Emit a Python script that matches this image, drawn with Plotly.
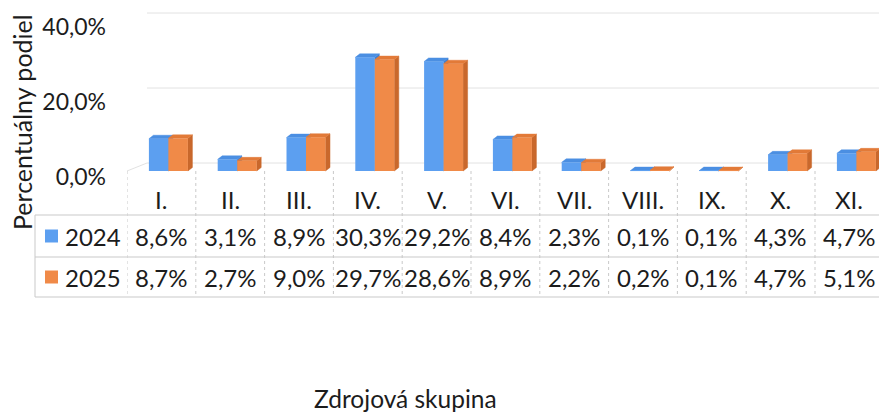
import plotly.graph_objects as go

# ---------------- data ----------------
categories = ["I.", "II.", "III.", "IV.", "V.", "VI.", "VII.", "VIII.", "IX.", "X.", "XI."]
series_names = ["2024", "2025"]
values_2024 = [8.6, 3.1, 8.9, 30.3, 29.2, 8.4, 2.3, 0.1, 0.1, 4.3, 4.7]
values_2025 = [8.7, 2.7, 9.0, 29.7, 28.6, 8.9, 2.2, 0.2, 0.1, 4.7, 5.1]
y_tick_values = [0, 20, 40]
y_tick_labels = ["0,0%", "20,0%", "40,0%"]
y_title = "Percentuálny podiel"
x_title = "Zdrojová skupina"

# ---------------- styling / geometry ----------------
W, H = 879, 412
L = 127            # left edge of plot (px)
COL = 68.8         # px per category
PXV = 3.75         # px per percent
Y0 = 171           # px of front zero
FONT = "Lato"
TXT = "#1c1c1c"
GRID = "#e2e2e2"
TLINE = "#c9c9c9"
front_cols = ["#5c9ff0", "#f08a48"]
top_cols = ["#4b8fe2", "#e27a38"]
side_cols = ["#3f7fcf", "#c9682c"]

xmax = (W - L) / COL
yrng = [(Y0 - H) / PXV, Y0 / PXV]


def px_x(p):
    return (p - L) / (W - L)


def px_y(p):
    return 1 - p / H


def fmt(v):
    return f"{v:.1f}".replace(".", ",") + "%"


bar_w = 19.5 / COL
offsets = [-2.75 / COL, 16.75 / COL]
ddx = 4.5 / COL
ddy = 3.5 / PXV

fig = go.Figure()
series = [values_2024, values_2025]
for s, vals in enumerate(series):
    xs_top, ys_top, xs_side, ys_side = [], [], [], []
    for i, v in enumerate(vals):
        xc = i + 0.5 + offsets[s]
        x0, x1 = xc - bar_w / 2, xc + bar_w / 2
        xs_top += [x0, x1, x1 + ddx, x0 + ddx, x0, None]
        ys_top += [v, v, v + ddy, v + ddy, v, None]
        xs_side += [x1, x1 + ddx, x1 + ddx, x1, x1, None]
        ys_side += [0, ddy, v + ddy, v, 0, None]
    fig.add_trace(go.Scatter(x=xs_side, y=ys_side, mode="lines", fill="toself",
                             fillcolor=side_cols[s], line=dict(width=0.5, color=side_cols[s]),
                             hoverinfo="skip", showlegend=False, zorder=2 * s))
    fig.add_trace(go.Scatter(x=xs_top, y=ys_top, mode="lines", fill="toself",
                             fillcolor=top_cols[s], line=dict(width=0.5, color=top_cols[s]),
                             hoverinfo="skip", showlegend=False, zorder=2 * s))
    fig.add_trace(go.Bar(x=[i + 0.5 + offsets[s] for i in range(len(vals))], y=vals,
                         width=bar_w, name=series_names[s],
                         marker=dict(color=front_cols[s], line=dict(width=0)),
                         showlegend=False, zorder=2 * s + 1))

shapes = []
# back wall gridlines and floor
back_dx = 20 / COL
back_dy = 8 / PXV
for t in y_tick_values:
    shapes.append(dict(type="line", xref="x", yref="y", x0=back_dx, x1=xmax,
                       y0=t + back_dy, y1=t + back_dy, line=dict(color=GRID, width=1), layer="below"))
shapes.append(dict(type="line", xref="x", yref="y", x0=0, x1=back_dx, y0=0, y1=back_dy,
                   line=dict(color=GRID, width=1), layer="below"))

# data table lines
row_tops = [215, 257, 297]
for yy in row_tops:
    shapes.append(dict(type="line", xref="paper", yref="paper", x0=px_x(35), x1=1,
                       y0=px_y(yy), y1=px_y(yy), line=dict(color=TLINE, width=1)))
shapes.append(dict(type="line", xref="paper", yref="paper", x0=px_x(35), x1=px_x(35),
                   y0=px_y(215), y1=px_y(297), line=dict(color=TLINE, width=1)))
for k in range(len(categories)):
    shapes.append(dict(type="line", xref="x", yref="paper", x0=k, x1=k,
                       y0=px_y(Y0), y1=px_y(297), line=dict(color=TLINE, width=1, dash="dot")))

# legend keys
key_y = [236, 277]
for s in range(2):
    shapes.append(dict(type="rect", xref="paper", yref="paper", x0=px_x(45), x1=px_x(58),
                       y0=px_y(key_y[s] + 6.5), y1=px_y(key_y[s] - 6.5),
                       fillcolor=front_cols[s], line=dict(width=0)))

annotations = []
fnt = dict(family=FONT, size=24, color=TXT)
for i, c in enumerate(categories):
    annotations.append(dict(x=i + 0.5, y=px_y(199), xref="x", yref="paper", text=c,
                            showarrow=False, font=fnt, xanchor="center", yanchor="middle"))
    for s, vals in enumerate(series):
        annotations.append(dict(x=i + 0.5, y=px_y(key_y[s]), xref="x", yref="paper",
                                text=fmt(vals[i]), showarrow=False, font=fnt,
                                xanchor="center", yanchor="middle"))
for s in range(2):
    annotations.append(dict(x=px_x(63), y=px_y(key_y[s]), xref="paper", yref="paper",
                            text=series_names[s], showarrow=False, font=fnt,
                            xanchor="left", yanchor="middle"))
annotations.append(dict(x=px_x(22), y=px_y(122), xref="paper", yref="paper", text=y_title,
                        textangle=-90, showarrow=False,
                        font=dict(family=FONT, size=25, color=TXT),
                        xanchor="center", yanchor="middle"))
annotations.append(dict(x=px_x(405), y=px_y(398), xref="paper", yref="paper", text=x_title,
                        showarrow=False, font=dict(family=FONT, size=24.5, color=TXT),
                        xanchor="center", yanchor="middle"))

fig.update_layout(
    width=W, height=H,
    margin=dict(l=L, r=0, t=0, b=0),
    paper_bgcolor="white", plot_bgcolor="white",
    barmode="overlay",
    showlegend=False,
    shapes=shapes,
    annotations=annotations,
    xaxis=dict(range=[0, xmax], showgrid=False, zeroline=False, showticklabels=False,
               showline=False, ticks="", fixedrange=True),
    yaxis=dict(range=yrng, tickvals=y_tick_values, ticktext=y_tick_labels,
               showgrid=False, zeroline=False, showline=False, ticks="",
               tickfont=dict(family=FONT, size=23, color=TXT),
               ticklabelshift=6, ticklabelstandoff=20, fixedrange=True),
)

fig.write_html(
    "out.html",
    config={"displayModeBar": False},
    post_script="document.body.style.margin='0px';document.documentElement.style.overflow='hidden';",
)
